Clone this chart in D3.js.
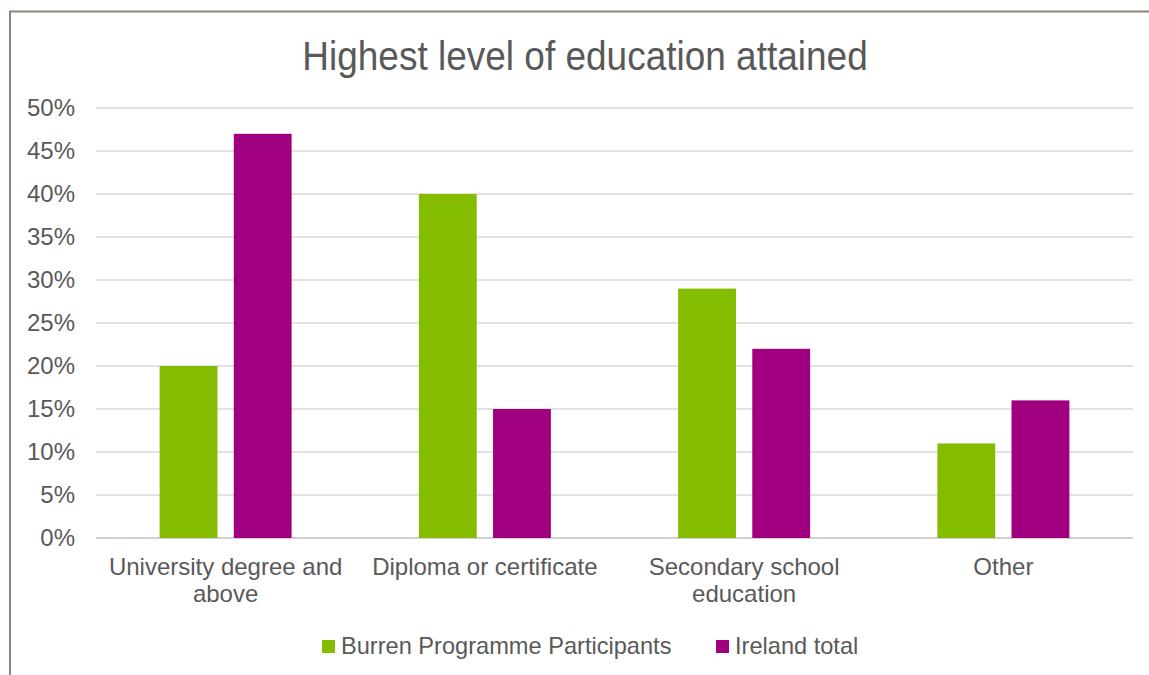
<!DOCTYPE html>
<html><head><meta charset="utf-8">
<script src="https://cdn.jsdelivr.net/npm/d3@7"></script>
<style>body{margin:0;background:#fff}svg{display:block;font-family:"Liberation Sans",Arial,sans-serif}</style>
</head><body>
<svg id="c" width="1149" height="675"></svg>
<script>
const categories = [["University degree and","above"],["Diploma or certificate"],["Secondary school","education"],["Other"]];
const seriesNames = ["Burren Programme Participants","Ireland total"];
const burren = [20,40,29,11];
const ireland = [47,15,22,16];
const yTicks = [0,5,10,15,20,25,30,35,40,45,50];
const colors = ["#84bd00","#a0007f"];

const svg = d3.select("#c");
svg.append("rect").attr("x",10).attr("y",11.5).attr("width",1200).attr("height",800)
  .attr("fill","none").attr("stroke","#8d837c").attr("stroke-width",2);

const pLeft=96,pRight=1133,pTop=108,pBottom=538;
const x0 = d3.scaleBand().domain(d3.range(categories.length)).range([pLeft,pRight]);
const y = d3.scaleLinear().domain([0,50]).range([pBottom,pTop]);

svg.append("text").attr("transform","translate(585,70) scale(1,1.12)").attr("text-anchor","middle")
  .attr("font-size",37).attr("fill","#595959").text("Highest level of education attained");

const grid = svg.append("g");
grid.selectAll("line").data(yTicks).join("line")
  .attr("x1",pLeft).attr("x2",pRight).attr("y1",d=>y(d)).attr("y2",d=>y(d))
  .attr("stroke",d=>d===0?"#d0d0d0":"#d9d9d9").attr("stroke-width",d=>d===0?2:1.3);
grid.selectAll("text").data(yTicks).join("text")
  .attr("x",75).attr("y",d=>y(d)).attr("dy","0.35em").attr("text-anchor","end")
  .attr("font-size",24).attr("fill","#595959").text(d=>d+"%");

const data = categories.map((c,i)=>({i,vals:[burren[i],ireland[i]]}));
const x1 = d3.scaleBand().domain([0,1]).range([0,132]).paddingInner(0.22);
const g = svg.append("g").selectAll("g").data(data).join("g")
  .attr("transform",d=>`translate(${x0(d.i)+x0.bandwidth()/2-66},0)`);
g.selectAll("rect").data(d=>d.vals).join("rect")
  .attr("x",(d,j)=>x1(j)).attr("width",x1.bandwidth())
  .attr("y",d=>y(d)).attr("height",d=>pBottom-y(d)).attr("fill",(d,j)=>colors[j]);

const labs = svg.append("g").selectAll("text").data(categories).join("text")
  .attr("x",(d,i)=>x0(i)+x0.bandwidth()/2).attr("y",575).attr("text-anchor","middle")
  .attr("font-size",24).attr("fill","#595959");
labs.selectAll("tspan").data(d=>d).join("tspan")
  .attr("x",function(){return this.parentNode.getAttribute("x");})
  .attr("dy",(d,k)=>k===0?0:27).text(d=>d);

const legX=[322,716];
const leg = svg.append("g").selectAll("g").data(seriesNames).join("g")
  .attr("transform",(d,i)=>`translate(${legX[i]},640)`);
leg.append("rect").attr("width",13).attr("height",13).attr("fill",(d,i)=>colors[i]);
leg.append("text").attr("x",19).attr("y",14).attr("font-size",23.6).attr("fill","#595959").text(d=>d);
</script>
</body></html>
